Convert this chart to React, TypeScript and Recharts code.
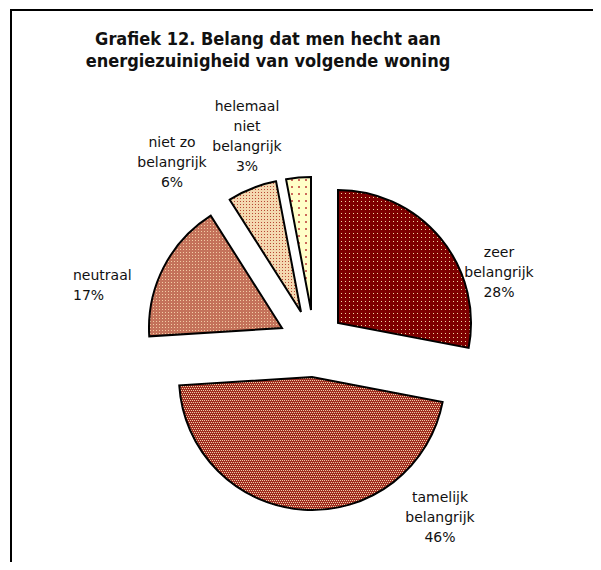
import { PieChart, Pie, Cell, Sector } from 'recharts'

// Grafiek 12 - belang energiezuinigheid volgende woning
const categories = [
  'zeer belangrijk',
  'tamelijk belangrijk',
  'neutraal',
  'niet zo belangrijk',
  'helemaal niet belangrijk',
]
const shares = [28, 46, 17, 6, 3]
const labelLines = [
  ['zeer', 'belangrijk'],
  ['tamelijk', 'belangrijk'],
  ['neutraal'],
  ['niet zo', 'belangrijk'],
  ['helemaal', 'niet', 'belangrijk'],
]

const data = categories.map((name, i) => ({ name, value: shares[i] }))

// how far each slice is pulled away from the pie centre (x, y)
const explode: [number, number][] = [
  [21, -15],
  [-5, 39],
  [-35, -10],
  [-16, -26],
  [-6, -28],
]
// label block position relative to pie centre: [dx, dy of first baseline, anchor]
const labelPos: [number, number, 'middle' | 'start'][] = [
  [182, -81, 'middle'],
  [123, 164, 'middle'],
  [-244, -58, 'start'],
  [-145, -191, 'middle'],
  [-70, -227, 'middle'],
]
const LINE_H = 20

const ExplodedSector = (props: any) => {
  const i = categories.indexOf(props.payload?.name ?? props.name)
  const [dx, dy] = explode[i] ?? [0, 0]
  return <Sector {...props} cx={props.cx + dx} cy={props.cy + dy} />
}

const renderLabel = (props: any) => {
  const { cx, cy, index } = props
  const [ox, oy, anchor] = labelPos[index]
  const lines = [...labelLines[index], `${shares[index]}%`]
  return (
    <text
      x={cx + ox} y={cy + oy} textAnchor={anchor}
      fill="#111" fontSize={14} fontFamily="DejaVu Sans"
    >
      {lines.map((t, k) => (
        <tspan key={k} x={cx + ox} dy={k === 0 ? 0 : LINE_H}>{t}</tspan>
      ))}
    </text>
  )
}

export default function App() {
  return (
    <div style={{ position: 'relative', width: 585, height: 554, overflow: 'hidden', background: '#fff' }}>
      <div style={{
        position: 'absolute', left: 2, top: 1, width: 700, height: 700,
        border: '2px solid #000',
      }} />
      <div style={{ position: 'absolute', left: 0, top: 0 }}>
        <PieChart width={585} height={554}>
          <defs>
            <pattern id="p0" width="4" height="4" patternUnits="userSpaceOnUse">
              <rect width="4" height="4" fill="#7e0000" />
              <rect x="1" y="1" width="1" height="1" fill="#f2dca4" />
            </pattern>
            <pattern id="p1" width="4" height="4" patternUnits="userSpaceOnUse">
              <rect width="4" height="4" fill="#a02c20" />
              <rect x="0" y="0" width="1" height="1" fill="#f0d0a8" />
              <rect x="2" y="0" width="1" height="1" fill="#f0d0a8" />
              <rect x="1" y="2" width="1" height="1" fill="#f0d0a8" />
              <rect x="3" y="2" width="1" height="1" fill="#f0d0a8" />
            </pattern>
            <pattern id="p2" width="3" height="3" patternUnits="userSpaceOnUse">
              <rect width="3" height="3" fill="#c4725a" />
              <rect x="1" y="1" width="1" height="1" fill="#f2cca4" />
            </pattern>
            <pattern id="p3" width="3" height="3" patternUnits="userSpaceOnUse">
              <rect width="3" height="3" fill="#f4d8b0" />
              <rect x="1" y="1" width="1" height="1" fill="#b84834" />
            </pattern>
            <pattern id="p4" width="7" height="7" patternUnits="userSpaceOnUse">
              <rect width="7" height="7" fill="#ffffc8" />
              <rect x="3" y="3" width="2" height="2" fill="#cc6a5a" />
            </pattern>
          </defs>
          <text x={260} y={37} textAnchor="middle" fontFamily="DejaVu Sans Condensed" fontWeight="bold" fontSize={18} fill="#111">
            Grafiek 12. Belang dat men hecht aan
          </text>
          <text x={260} y={59} textAnchor="middle" fontFamily="DejaVu Sans Condensed" fontWeight="bold" fontSize={18} fill="#111">
            energiezuinigheid van volgende woning
          </text>
          <Pie
            data={data}
            dataKey="value"
            nameKey="name"
            cx={304}
            cy={325}
            outerRadius={133}
            startAngle={90}
            endAngle={-270}
            stroke="#000"
            strokeWidth={2}
            isAnimationActive={false}
            labelLine={false}
            label={renderLabel}
            shape={ExplodedSector}
          >
            {data.map((_, i) => <Cell key={i} fill={`url(#p${i})`} />)}
          </Pie>
        </PieChart>
      </div>
    </div>
  )
}
